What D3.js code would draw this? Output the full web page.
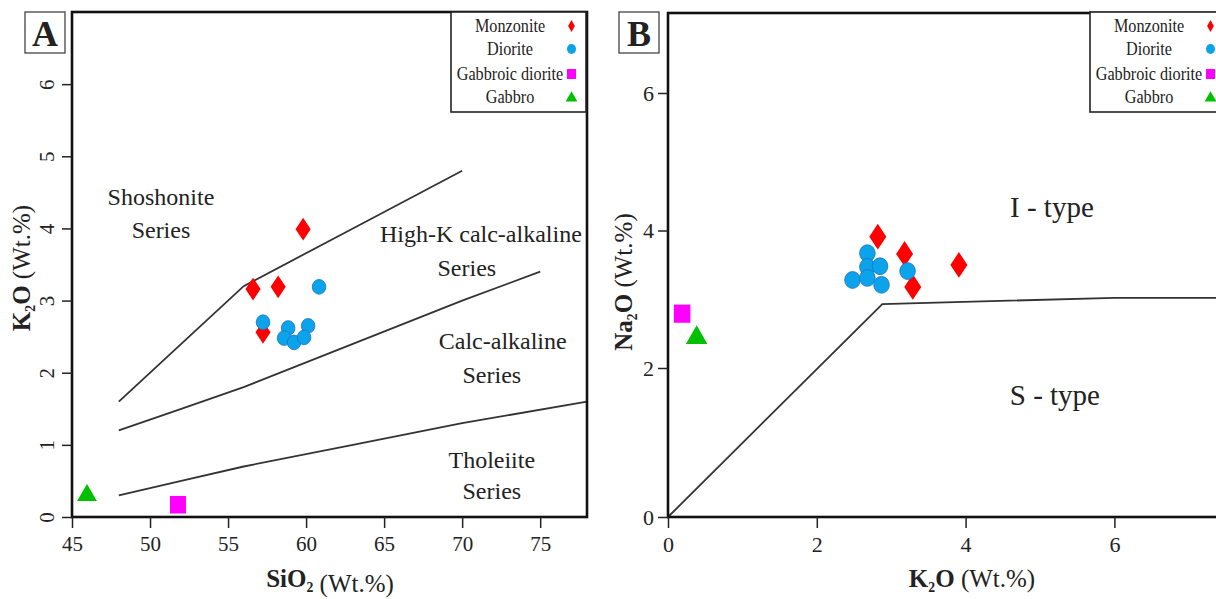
<!DOCTYPE html>
<html><head><meta charset="utf-8">
<script src="https://cdn.jsdelivr.net/npm/d3@7"></script>
<style>
html,body{margin:0;padding:0;background:#fff;}
svg text{font-family:"Liberation Serif","Times New Roman",serif;fill:#222;}
</style></head>
<body><svg id="c" width="1216" height="599"></svg>
<script>
// ---------- data: panel A (SiO2 vs K2O) ----------
const aMonzonite = [[59.81,3.99],[58.21,3.19],[56.60,3.16],[57.24,2.56]];
const aDiorite = [[60.83,3.19],[57.24,2.70],[58.85,2.62],[60.13,2.65],[58.59,2.48],[59.23,2.42],[59.87,2.49]];
const aGabbroicDiorite = [[51.79,0.17]];
const aGabbro = [[45.96,0.30]];
const aLineTholeiiteCA = [[48,0.3],[52,0.5],[56,0.7],[63,1.0],[70,1.3],[78,1.6]];
const aLineCAHighK = [[48,1.2],[52,1.5],[56,1.8],[63,2.4],[70,3.0],[75,3.4]];
const aLineHighKShosh = [[48,1.6],[52,2.4],[56,3.2],[63,4.0],[70,4.8]];
const aXTicks = [45,50,55,60,65,70,75];
const aYTicks = [0,1,2,3,4,5,6];
const aLabels = [
  ["Shoshonite",50.7,4.44],["Series",50.7,3.98],
  ["High-K calc-alkaline",71.2,3.93],["Series",70.3,3.46],
  ["Calc-alkaline",72.6,2.45],["Series",71.9,1.98],
  ["Tholeiite",71.9,0.79],["Series",71.9,0.36]
];
// ---------- data: panel B (K2O vs Na2O) ----------
const bMonzonite = [[2.82,3.91],[3.18,3.66],[3.29,3.18],[3.91,3.50]];
const bDiorite = [[2.68,3.67],[2.68,3.47],[2.85,3.48],[2.48,3.28],[2.68,3.31],[2.87,3.21],[3.22,3.41]];
const bGabbroicDiorite = [[0.19,2.79]];
const bGabbro = [[0.385,2.44]];
const bLineIS = [[0,0],[2.88,2.93],[6.0,3.02],[7.5,3.02]];
const bXTicks = [0,2,4,6];
const bYTicks = [0,2,4,6];
const bLabels = [["I - type",5.16,4.35],["S - type",5.2,1.64]];
const legendNames = ["Monzonite","Diorite","Gabbroic diorite","Gabbro"];

const C = {mon:"#ff0000", dio:"#0ba3ea", gab:"#ff00ff", gb:"#00c000"};
const FONT = '"Liberation Serif","Times New Roman",serif';
const svg = d3.select("#c");

const xA = d3.scaleLinear().domain([45,78]).range([72,587]);
const yA = d3.scaleLinear().domain([0,7]).range([517,12]);
const xB = d3.scaleLinear().domain([0,7.5]).range([668,1226]);
const yB = d3.scaleLinear().domain([0,2,6,7.16]).range([517,368,93,13]);

function drawSymbols(g, x, y, mon, dio, gab, gb, s){
  const d = d3.symbol().type(d3.symbolDiamond).size(s.dia)();
  g.selectAll(null).data(mon).enter().append("path").attr("d",d)
    .attr("transform",p=>`translate(${x(p[0])},${y(p[1])}) scale(1.15,1)`).attr("fill",C.mon);
  g.selectAll(null).data(dio).enter().append("ellipse")
    .attr("cx",p=>x(p[0])).attr("cy",p=>y(p[1])).attr("rx",s.cr).attr("ry",s.cr*1.08)
    .attr("fill",C.dio).attr("stroke","#1b73c4").attr("stroke-width",0.8);
  g.selectAll(null).data(gab).enter().append("rect")
    .attr("x",p=>x(p[0])-s.sq/2).attr("y",p=>y(p[1])-s.sq*0.55).attr("width",s.sq).attr("height",s.sq*1.1)
    .attr("fill",C.gab);
  const t = d3.symbol().type(d3.symbolTriangle).size(s.tri)();
  g.selectAll(null).data(gb).enter().append("path").attr("d",t)
    .attr("transform",p=>`translate(${x(p[0])},${y(p[1])})`).attr("fill",C.gb);
}

function subTitle(g, x, y, main, sub, tail, rest, rot, size){
  const t = g.append("text").attr("text-anchor","middle").attr("font-family",FONT)
    .attr("transform",`translate(${x},${y})${rot?" rotate(-90)":""}`)
    .attr("font-size",size);
  t.append("tspan").attr("font-weight","bold").text(main);
  t.append("tspan").attr("font-size",size*0.55).attr("dy",size*0.18).attr("font-weight","bold").text(sub);
  t.append("tspan").attr("dy",-size*0.18).attr("font-weight","bold").text(tail);
  t.append("tspan").text(rest);
}

function legend(g, x0, y0, w){
  g.append("rect").attr("x",x0).attr("y",y0).attr("width",w).attr("height",100)
    .attr("fill","#fff").attr("stroke","#222").attr("stroke-width",1.6);
  const rows = [14,37,62,85];
  legendNames.forEach((n,i)=>{
    g.append("text").attr("font-family",FONT)
      .attr("transform",`translate(${x0+59},${y0+rows[i]}) scale(0.9,1)`).attr("dy","0.35em")
      .attr("text-anchor","middle").attr("font-size",18).text(n);
  });
  const sx = x0+120.5;
  g.append("path").attr("d",d3.symbol().type(d3.symbolDiamond).size(40)())
    .attr("transform",`translate(${sx},${y0+14})`).attr("fill",C.mon);
  g.append("ellipse").attr("cx",sx).attr("cy",y0+37).attr("rx",4.5).attr("ry",5).attr("fill",C.dio);
  g.append("rect").attr("x",sx-4.5).attr("y",y0+57).attr("width",9).attr("height",10).attr("fill",C.gab);
  g.append("path").attr("d",d3.symbol().type(d3.symbolTriangle).size(60)())
    .attr("transform",`translate(${sx},${y0+86})`).attr("fill",C.gb);
}

function letterBox(g, x, y, L){
  g.append("rect").attr("x",x).attr("y",y).attr("width",40).attr("height",41)
    .attr("fill","#fff").attr("stroke","#444").attr("stroke-width",1.3);
  g.append("text").attr("x",x+20).attr("y",y+34).attr("text-anchor","middle").attr("font-family",FONT)
    .attr("font-size",36).attr("font-weight","bold").text(L);
}

const line = (x,y)=>d3.line().x(p=>x(p[0])).y(p=>y(p[1]));

function styleAxis(ax, size){
  ax.attr("font-family",FONT);
  ax.select(".domain").remove();
  ax.selectAll("line").attr("stroke","#222").attr("stroke-width",1.5);
  ax.selectAll("text").attr("font-size",size).attr("fill","#222").attr("font-family",FONT);
}

// ===== Panel A =====
const gA = svg.append("g");
[aLineTholeiiteCA,aLineCAHighK,aLineHighKShosh].forEach(l=>{
  gA.append("path").attr("d",line(xA,yA)(l)).attr("fill","none").attr("stroke","#333").attr("stroke-width",1.8);
});
aLabels.forEach(l=>{
  gA.append("text").attr("x",xA(l[1])).attr("y",yA(l[2])).attr("dy","0.35em").attr("font-family",FONT)
    .attr("text-anchor","middle").attr("font-size",24).text(l[0]);
});
drawSymbols(gA,xA,yA,aMonzonite,aDiorite,aGabbroicDiorite,aGabbro,{dia:150,cr:6.8,sq:16,tri:170});
gA.append("rect").attr("x",xA.range()[0]).attr("y",yA.range()[1])
  .attr("width",xA.range()[1]-xA.range()[0]).attr("height",yA.range()[0]-yA.range()[1])
  .attr("fill","none").attr("stroke","#111").attr("stroke-width",2.6);
const axAx = gA.append("g").attr("transform",`translate(0,${yA(0)})`)
  .call(d3.axisBottom(xA).tickValues(aXTicks).tickSize(11).tickPadding(8));
styleAxis(axAx, 21);
const axAy = gA.append("g").attr("transform",`translate(${xA(45)},0)`)
  .call(d3.axisLeft(yA).tickValues(aYTicks).tickSize(10).tickFormat(d3.format("d")));
styleAxis(axAy, 21);
axAy.selectAll("text").attr("x",0).attr("dy",0).attr("text-anchor","middle")
  .attr("transform","translate(-25,0) rotate(-90)").attr("dominant-baseline","central");
subTitle(gA, 330, 587, "SiO", "2", "", " (Wt.%)", false, 25);
subTitle(gA, 30, 268, "K", "2", "O", " (Wt.%)", true, 25);
legend(gA, 451, 12, 135);
letterBox(gA, 25, 12, "A");

// ===== Panel B =====
const gB = svg.append("g");
gB.append("path").attr("d",line(xB,yB)(bLineIS)).attr("fill","none").attr("stroke","#333").attr("stroke-width",1.8);
bLabels.forEach(l=>{
  gB.append("text").attr("x",xB(l[1])).attr("y",yB(l[2])).attr("dy","0.35em").attr("font-family",FONT)
    .attr("text-anchor","middle").attr("font-size",29).text(l[0]);
});
drawSymbols(gB,xB,yB,bMonzonite,bDiorite,bGabbroicDiorite,bGabbro,{dia:190,cr:7.8,sq:16.5,tri:200});
gB.append("rect").attr("x",xB.range()[0]).attr("y",yB.range()[3])
  .attr("width",xB.range()[1]-xB.range()[0]).attr("height",yB.range()[0]-yB.range()[3])
  .attr("fill","none").attr("stroke","#111").attr("stroke-width",2.6);
const bxAx = gB.append("g").attr("transform",`translate(0,${yB(0)})`)
  .call(d3.axisBottom(xB).tickValues(bXTicks).tickSize(11).tickPadding(8));
styleAxis(bxAx, 22);
const byAx = gB.append("g").attr("transform",`translate(${xB(0)},0)`)
  .call(d3.axisLeft(yB).tickValues(bYTicks).tickSize(10).tickPadding(4));
styleAxis(byAx, 22);
subTitle(gB, 972, 587, "K", "2", "O", " (Wt.%)", false, 25);
subTitle(gB, 632, 282, "Na", "2", "O", " (Wt.%)", true, 25);
legend(gB, 1090, 12, 135);
letterBox(gB, 619, 12, "B");
</script></body></html>
